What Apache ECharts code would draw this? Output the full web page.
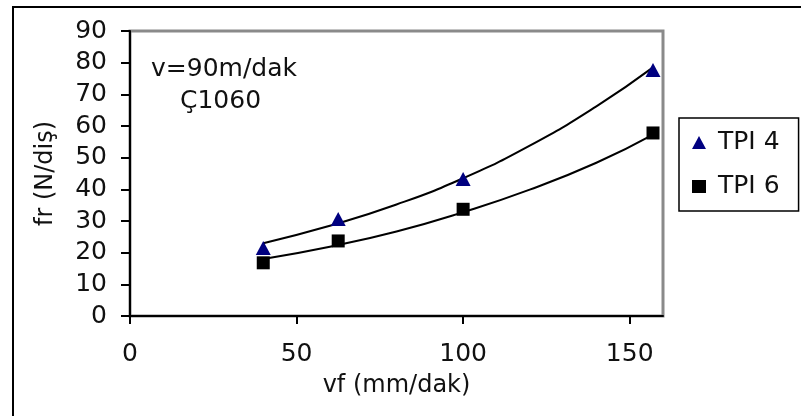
<!DOCTYPE html>
<html>
<head>
<meta charset="utf-8">
<script src="https://cdn.jsdelivr.net/npm/echarts@6/dist/echarts.min.js"></script>
<style>
html,body{margin:0;padding:0;background:#fff;}
#chart{width:801px;height:416px;}
</style>
</head>
<body>
<div id="chart"></div>
<script>
// Measured points
var vf = [40, 62.5, 100, 157];
var tpi4 = [21.5, 30.6, 43.3, 77.7];
var tpi6 = [16.8, 23.7, 33.7, 57.8];
// Trend curves
var trendX = [40, 60, 80, 100, 120, 140, 157];
var trend4 = [23.0, 28.5, 35.2, 43.5, 53.8, 66.2, 78.5];
var trend6 = [18.0, 21.9, 26.7, 32.8, 39.9, 48.4, 57.3];
var xTicks = [0, 50, 100, 150];
var seriesNames = ['TPI 4', 'TPI 6'];
var note1 = 'v=90m/dak';
var note2 = 'Ç1060';

function pairs(xs, ys){ return xs.map(function(x,i){ return [x, ys[i]]; }); }

var font = '"DejaVu Sans", sans-serif';
var fs = 25;
var chart = echarts.init(document.getElementById('chart'));
chart.setOption({
  animation: false,
  backgroundColor: '#fff',
  grid: { left: 130, top: 31, right: 138, bottom: 100, show: true, borderColor: '#8a8a8a', borderWidth: 3, backgroundColor: 'transparent' },
  xAxis: {
    type: 'value', min: 0, max: 160,
    name: 'vf (mm/dak)', nameLocation: 'middle', nameGap: 58,
    nameTextStyle: { fontFamily: font, fontSize: 24, color: '#111' },
    axisLine: { show: true, onZero: false, lineStyle: { color: '#000', width: 2 } },
    axisTick: { show: true, length: 8, customValues: xTicks, lineStyle: { color: '#000', width: 2 } },
    axisLabel: { customValues: xTicks, margin: 26, fontFamily: font, fontSize: fs, color: '#111' },
    splitLine: { show: false }
  },
  yAxis: {
    type: 'value', min: 0, max: 90, interval: 10,
    name: 'fr (N/diş)', nameLocation: 'middle', nameGap: 72,
    nameTextStyle: { fontFamily: font, fontSize: 24, color: '#111' },
    axisLine: { show: true, onZero: false, lineStyle: { color: '#000', width: 2 } },
    axisTick: { show: true, length: 9, lineStyle: { color: '#000', width: 2 } },
    axisLabel: { margin: 23, fontFamily: font, fontSize: fs, color: '#111' },
    splitLine: { show: false }
  },
  legend: {
    orient: 'vertical', left: 679, top: 118,
    data: seriesNames,
    borderColor: '#000', borderWidth: 1.5, backgroundColor: '#fff',
    padding: [12, 19, 12, 13], itemGap: 19, itemWidth: 14, itemHeight: 13,
    textStyle: { fontFamily: font, fontSize: fs, color: '#111', padding: [0, 0, 0, 7] }
  },
  graphic: [
    { type: 'rect', shape: { x: 13, y: 7, width: 820, height: 430 }, style: { fill: 'none', stroke: '#000', lineWidth: 2 }, silent: true, z: -1 },
    { type: 'text', left: 151, top: 57, style: { text: note1, font: fs + 'px ' + font, fill: '#111' } },
    { type: 'text', left: 180, top: 89, style: { text: note2, font: fs + 'px ' + font, fill: '#111' } }
  ],
  series: [
    { name: 'trend4', type: 'line', data: pairs(trendX, trend4), smooth: true, showSymbol: false, symbol: 'none', lineStyle: { color: '#000', width: 2 }, z: 1, silent: true },
    { name: 'trend6', type: 'line', data: pairs(trendX, trend6), smooth: true, showSymbol: false, symbol: 'none', lineStyle: { color: '#000', width: 2 }, z: 1, silent: true },
    { name: seriesNames[0], type: 'scatter', data: pairs(vf, tpi4), symbol: 'triangle', symbolSize: [15, 14], itemStyle: { color: '#000080', opacity: 1 }, z: 3 },
    { name: seriesNames[1], type: 'scatter', data: pairs(vf, tpi6), symbol: 'rect', symbolSize: 13, itemStyle: { color: '#000', opacity: 1 }, z: 3 }
  ]
});
</script>
</body>
</html>
